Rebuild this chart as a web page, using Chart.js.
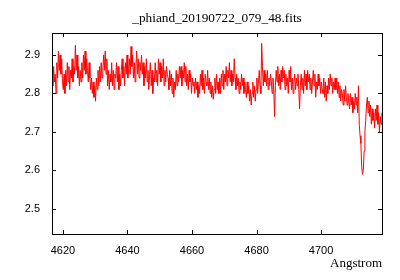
<!DOCTYPE html>
<html>
<head>
<meta charset="utf-8">
<script src="https://cdn.jsdelivr.net/npm/chart.js@4/dist/chart.umd.min.js"></script>
<style>
  html, body { margin: 0; padding: 0; background: #fff; }
  canvas { display: block; }
</style>
</head>
<body>
<canvas id="spec" width="400" height="280"></canvas>
<script>
// wavelength grid of the spectrum (linear dispersion)
const lambdaStart = 4616.6
const lambdaStep = 0.25

const titleText = '_phiand_20190722_079_48.fits'
const xLabel = 'Angstrom'

// flux, 16 points per 4 Angstrom
const flux = [
  2.86, 2.82, 2.87, 2.83, 2.85, 2.80, 2.88, 2.84, 2.91, 2.86, 2.90, 2.85, 2.89, 2.83, 2.81, 2.85,
  2.80, 2.86, 2.82, 2.88, 2.83, 2.87, 2.81, 2.86, 2.84, 2.89, 2.83, 2.87, 2.85, 2.925, 2.86, 2.90,
  2.84, 2.87, 2.82, 2.86, 2.83, 2.88, 2.84, 2.90, 2.86, 2.91, 2.85, 2.89, 2.86, 2.83, 2.88, 2.84,
  2.81, 2.84, 2.80, 2.83, 2.79, 2.82, 2.78, 2.84, 2.81, 2.86, 2.82, 2.87, 2.83, 2.88, 2.84, 2.86,
  2.90, 2.86, 2.91, 2.85, 2.89, 2.82, 2.86, 2.81, 2.85, 2.83, 2.88, 2.82, 2.86, 2.81, 2.85, 2.84,
  2.88, 2.83, 2.87, 2.81, 2.85, 2.82, 2.86, 2.89, 2.84, 2.87, 2.82, 2.88, 2.85, 2.90, 2.84, 2.86,
  2.89, 2.85, 2.922, 2.87, 2.90, 2.84, 2.88, 2.83, 2.87, 2.91, 2.85, 2.89, 2.84, 2.88, 2.86, 2.90,
  2.85, 2.88, 2.82, 2.87, 2.84, 2.89, 2.83, 2.86, 2.81, 2.85, 2.88, 2.82, 2.86, 2.80, 2.84, 2.83,
  2.88, 2.83, 2.86, 2.82, 2.89, 2.85, 2.88, 2.83, 2.87, 2.84, 2.89, 2.82, 2.86, 2.83, 2.87, 2.85,
  2.84, 2.81, 2.86, 2.82, 2.85, 2.80, 2.84, 2.79, 2.83, 2.81, 2.86, 2.82, 2.85, 2.83, 2.87, 2.84,
  2.87, 2.82, 2.86, 2.84, 2.88, 2.83, 2.87, 2.82, 2.85, 2.81, 2.86, 2.83, 2.85, 2.80, 2.84, 2.82,
  2.83, 2.80, 2.84, 2.81, 2.83, 2.79, 2.82, 2.80, 2.85, 2.82, 2.86, 2.81, 2.84, 2.80, 2.85, 2.83,
  2.82, 2.86, 2.81, 2.84, 2.80, 2.83, 2.79, 2.82, 2.785, 2.81, 2.84, 2.80, 2.85, 2.81, 2.83, 2.80,
  2.84, 2.80, 2.85, 2.82, 2.86, 2.81, 2.85, 2.83, 2.87, 2.82, 2.86, 2.84, 2.88, 2.83, 2.86, 2.82,
  2.85, 2.83, 2.89, 2.84, 2.81, 2.85, 2.82, 2.84, 2.80, 2.83, 2.81, 2.85, 2.82, 2.84, 2.80, 2.83,
  2.81, 2.79, 2.83, 2.80, 2.82, 2.78, 2.81, 2.77, 2.80, 2.83, 2.79, 2.82, 2.78, 2.81, 2.84, 2.80,
  2.83, 2.86, 2.82, 2.80, 2.93, 2.87, 2.82, 2.86, 2.83, 2.85, 2.82, 2.86, 2.81, 2.84, 2.82, 2.85,
  2.83, 2.80, 2.84, 2.81, 2.74, 2.82, 2.86, 2.83, 2.87, 2.82, 2.85, 2.81, 2.86, 2.83, 2.87, 2.84,
  2.86, 2.81, 2.85, 2.82, 2.84, 2.80, 2.86, 2.83, 2.87, 2.81, 2.84, 2.80, 2.83, 2.85, 2.81, 2.84,
  2.82, 2.85, 2.81, 2.76, 2.82, 2.85, 2.81, 2.84, 2.80, 2.86, 2.82, 2.85, 2.81, 2.86, 2.83, 2.85,
  2.81, 2.84, 2.80, 2.83, 2.86, 2.82, 2.85, 2.79, 2.83, 2.81, 2.85, 2.82, 2.84, 2.80, 2.83, 2.81,
  2.80, 2.84, 2.79, 2.83, 2.78, 2.82, 2.80, 2.84, 2.81, 2.85, 2.82, 2.84, 2.80, 2.83, 2.81, 2.84,
  2.81, 2.84, 2.80, 2.83, 2.79, 2.82, 2.78, 2.81, 2.80, 2.77, 2.81, 2.78, 2.82, 2.79, 2.77, 2.80,
  2.78, 2.76, 2.80, 2.77, 2.79, 2.75, 2.78, 2.76, 2.80, 2.77, 2.79, 2.75, 2.82, 2.72, 2.69, 2.67,
  2.61, 2.59, 2.60, 2.65, 2.70, 2.73, 2.77, 2.79, 2.75, 2.78, 2.74, 2.77, 2.72, 2.76, 2.73, 2.75,
  2.71, 2.76, 2.73, 2.77, 2.72, 2.75, 2.70, 2.74, 2.72, 2.75
]

const xTicks = [4620, 4640, 4660, 4680, 4700]
const yTicks = [2.5, 2.6, 2.7, 2.8, 2.9]

const xRange = [4616.6, 4718.9]
const yRange = [2.435, 2.957]

const points = flux.map((f, i) => ({x: lambdaStart + i * lambdaStep, y: f}))

// gnuplot style frame: full box, inward ticks on all sides, title over the plot
const frame = {
  id: 'frame',
  afterDraw(chart) {
    const ctx = chart.ctx
    const a = chart.chartArea
    const sx = chart.scales.x, sy = chart.scales.y
    const tl = 4
    ctx.save()
    ctx.strokeStyle = '#000'
    ctx.lineWidth = 1
    ctx.strokeRect(Math.round(a.left) + 0.5, Math.round(a.top) + 0.5,
                   Math.round(a.right - a.left), Math.round(a.bottom - a.top))
    ctx.beginPath()
    xTicks.forEach(v => {
      const px = Math.round(sx.getPixelForValue(v)) + 0.5
      ctx.moveTo(px, a.bottom); ctx.lineTo(px, a.bottom - tl)
      ctx.moveTo(px, a.top); ctx.lineTo(px, a.top + tl)
    })
    yTicks.forEach(v => {
      const py = Math.round(sy.getPixelForValue(v)) + 0.5
      ctx.moveTo(a.left, py); ctx.lineTo(a.left + tl, py)
      ctx.moveTo(a.right, py); ctx.lineTo(a.right - tl, py)
    })
    ctx.stroke()
    ctx.fillStyle = '#000'
    ctx.font = '13.3px "Liberation Serif"'
    ctx.textAlign = 'center'
    ctx.textBaseline = 'middle'
    ctx.fillText(titleText, (a.left + a.right) / 2, 19)
    ctx.restore()
  }
}

new Chart(document.getElementById('spec'), {
  type: 'line',
  data: {
    datasets: [{
      data: points,
      borderColor: '#ff0000',
      borderWidth: 1,
      pointRadius: 0,
      tension: 0,
      fill: false
    }]
  },
  options: {
    responsive: false,
    animation: false,
    devicePixelRatio: 1,
    layout: { padding: { left: 0, right: 18, top: 33, bottom: 0 } },
    plugins: {
      legend: { display: false },
      tooltip: { enabled: false },
      title: { display: false }
    },
    scales: {
      x: {
        type: 'linear',
        min: xRange[0],
        max: xRange[1],
        afterBuildTicks: s => { s.ticks = xTicks.map(v => ({value: v})) },
        afterFit: s => { s.height = 46 },
        grid: { display: false, drawTicks: false },
        border: { display: false },
        ticks: {
          padding: 10,
          color: '#000',
          font: { family: 'Liberation Sans', size: 11 },
          maxRotation: 0,
          callback: v => String(v)
        },
        title: {
          display: true,
          text: xLabel,
          align: 'end',
          color: '#000',
          font: { family: 'Liberation Serif', size: 13 },
          padding: { top: 9, bottom: 9 }
        }
      },
      y: {
        type: 'linear',
        min: yRange[0],
        max: yRange[1],
        afterBuildTicks: s => { s.ticks = yTicks.map(v => ({value: v})) },
        afterFit: s => { s.width = 52 },
        grid: { display: false, drawTicks: false },
        border: { display: false },
        ticks: {
          padding: 12,
          color: '#000',
          font: { family: 'Liberation Sans', size: 11 },
          callback: v => v.toFixed(1)
        }
      }
    }
  },
  plugins: [frame]
})
</script>
</body>
</html>
